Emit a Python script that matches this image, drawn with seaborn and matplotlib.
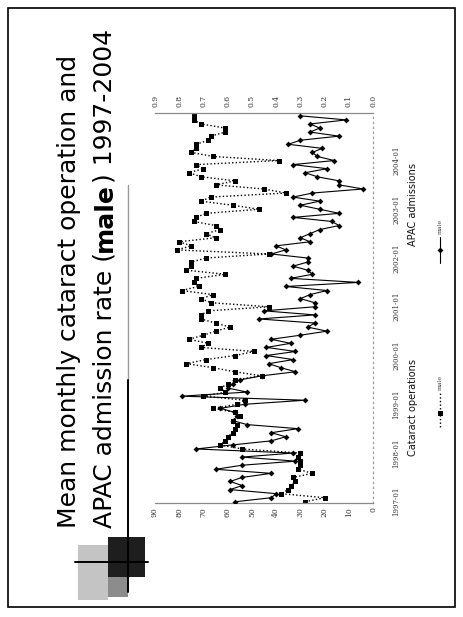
import matplotlib
matplotlib.use("Agg")
import numpy as np
import pandas as pd
import seaborn as sns
import matplotlib.pyplot as plt
from matplotlib.patches import Rectangle
from matplotlib.lines import Line2D

# ---------------- data ----------------
date_labels = ["1997-01", "1998-01", "1999-01", "2000-01",
               "2001-01", "2002-01", "2003-01", "2004-01"]

cataract = [28, 20, 38, 35, 34, 32, 33, 25, 31, 30, 30, 31,
            30, 54, 63, 61, 60, 58, 57, 56, 58, 55, 57, 66,
            56, 53, 70, 61, 63, 60, 57, 46, 57, 66, 77, 69,
            57, 49, 71, 68, 76, 70, 65, 59, 65, 71, 71, 68,
            43, 67, 71, 66, 79, 72, 74, 73, 61, 77, 75, 75,
            69, 43, 81, 75, 80, 65, 69, 63, 65, 74, 73, 69,
            47, 58, 71, 67, 36, 45, 65, 57, 71, 76, 70, 73,
            39, 66, 75, 73, 73, 68, 67, 61, 61, 71, 74, 74]

apac = [0.57, 0.42, 0.40, 0.59, 0.54, 0.59, 0.54, 0.42, 0.65, 0.54, 0.32, 0.54,
        0.33, 0.73, 0.58, 0.42, 0.36, 0.42, 0.31, 0.52, 0.58, 0.56, 0.57, 0.63,
        0.53, 0.28, 0.79, 0.52, 0.60, 0.58, 0.55, 0.46, 0.32, 0.38, 0.43, 0.33,
        0.44, 0.32, 0.44, 0.34, 0.42, 0.30, 0.19, 0.27, 0.24, 0.47, 0.24, 0.45,
        0.24, 0.24, 0.30, 0.26, 0.19, 0.36, 0.06, 0.34, 0.25, 0.27, 0.33, 0.27,
        0.27, 0.42, 0.36, 0.40, 0.26, 0.30, 0.26, 0.22, 0.14, 0.17, 0.33, 0.14,
        0.22, 0.30, 0.22, 0.33, 0.25, 0.04, 0.14, 0.14, 0.23, 0.28, 0.19, 0.33,
        0.16, 0.23, 0.25, 0.21, 0.35, 0.30, 0.14, 0.26, 0.22, 0.26, 0.11, 0.30]

left_ticks = [0, 10, 20, 30, 40, 50, 60, 70, 80, 90]
right_ticks = [0.0, 0.1, 0.2, 0.3, 0.4, 0.5, 0.6, 0.7, 0.8, 0.9]

title_line1 = "Mean monthly cataract operation and"
title_line2 = [("APAC admission rate (", "normal"), ("male", "bold"), (") 1997-2004", "normal")]
legend_cat = "Cataract operations"
legend_apac = "APAC admissions"
series_name = "male"

# ---------------- figure ----------------
sns.set_style("white")
plt.rcParams["font.family"] = ["DejaVu Sans"]

W, H = 464, 617
fig = plt.figure(figsize=(W / 100, H / 100), dpi=100)


def fx(px):
    return px / W


def fy(py):
    return 1 - py / H


months = np.arange(len(cataract))
df = pd.DataFrame({"month": months, "cataract": cataract, "apac": apac})

ax = fig.add_axes([fx(155), fy(503), fx(373) - fx(155), fy(113) - fy(503)])
sns.lineplot(data=df, x="cataract", y="month", orient="y", ax=ax,
             color="black", linestyle=(0, (1, 1.6)), linewidth=1.0,
             marker="s", markersize=3.6, markeredgewidth=0)

ax2 = ax.twiny()
sns.lineplot(data=df, x="apac", y="month", orient="y", ax=ax2,
             color="black", linewidth=0.8,
             marker="D", markersize=3.0, markeredgewidth=0)

ax.set_xlim(90, 0)
ax2.set_xlim(0.9, 0.0)
ax.set_ylim(-0.3, 95.7)

tick_font = dict(family="DejaVu Serif", size=5.5, color="#333333")
ax.set_xticks(left_ticks)
ax.set_xticklabels([str(v) for v in left_ticks], rotation=90, **tick_font)
ax.tick_params(axis="x", length=0, pad=3)

ax2.set_xticks(right_ticks)
ax2.set_xticklabels([f"{v:.1f}" for v in right_ticks], rotation=90, **tick_font)
ax2.tick_params(axis="x", length=0, pad=4)

ax.yaxis.tick_right()
ax.set_yticks(np.arange(0, 12 * len(date_labels), 12))
ax.set_yticklabels(date_labels, rotation=90, va="center",
                   family="DejaVu Serif", size=5, color="#333333")
ax.tick_params(axis="y", length=0, pad=14)

for a in (ax, ax2):
    a.set_xlabel("")
    a.set_ylabel("")
for s in ax2.spines.values():
    s.set_visible(False)
ax.spines["left"].set_visible(False)
ax.spines["bottom"].set_color("#8a8a8a")
ax.spines["bottom"].set_linewidth(0.9)
ax.spines["top"].set_color("#8a8a8a")
ax.spines["top"].set_linewidth(0.9)
ax.spines["right"].set_color("#9a9a9a")
ax.spines["right"].set_linestyle((0, (1, 3)))
ax.spines["right"].set_linewidth(0.9)

# ---------------- title (rotated) ----------------
renderer = fig.canvas.get_renderer()
title_size = 18
fig.text(fx(69), fy(528), title_line1, rotation=90, ha="center", va="bottom",
         fontsize=title_size, color="black")
y = fy(528)
for txt, wt in title_line2:
    t = fig.text(fx(105), y, txt, rotation=90, ha="center", va="bottom",
                 fontsize=title_size, fontweight=wt, color="black")
    bb = t.get_window_extent(renderer)
    y += bb.height / H

# ---------------- decoration ----------------
tf = fig.transFigure
fig.add_artist(Rectangle((fx(78), fy(600)), fx(108) - fx(78), fy(545) - fy(600),
                         transform=tf, facecolor="#c4c4c4", edgecolor="none"))
fig.add_artist(Rectangle((fx(108), fy(597)), fx(128) - fx(108), fy(577) - fy(597),
                         transform=tf, facecolor="#8c8c8c", edgecolor="none"))
fig.add_artist(Rectangle((fx(108), fy(577)), fx(145) - fx(108), fy(537) - fy(577),
                         transform=tf, facecolor="#1e1e1e", edgecolor="none"))
fig.add_artist(Line2D([fx(128), fx(128)], [fy(185), fy(380)], transform=tf,
                      color="#9a9a9a", linewidth=1.0))
fig.add_artist(Line2D([fx(128), fx(128)], [fy(380), fy(592)], transform=tf,
                      color="black", linewidth=1.4))
fig.add_artist(Line2D([fx(75), fx(148)], [fy(562), fy(562)], transform=tf,
                      color="black", linewidth=1.4))

# ---------------- legend (rotated) ----------------
fig.text(fx(413), fy(408), legend_cat, rotation=90, ha="center", va="center",
         fontsize=7, color="#111111")
fig.text(fx(413), fy(204), legend_apac, rotation=90, ha="center", va="center",
         fontsize=7, color="#111111")
fig.add_artist(Line2D([fx(440), fx(440)], [fy(427), fy(393)], transform=tf,
                      color="black", linestyle=(0, (1, 1.6)), linewidth=1.0))
fig.add_artist(Line2D([fx(440)], [fy(413)], transform=tf, color="black",
                      marker="s", markersize=3.6, markeredgewidth=0))
fig.text(fx(440), fy(390), series_name, rotation=90, ha="center", va="bottom",
         family="DejaVu Serif", fontsize=4.5, color="#444444")
fig.add_artist(Line2D([fx(440), fx(440)], [fy(263), fy(237)], transform=tf,
                      color="black", linewidth=0.8))
fig.add_artist(Line2D([fx(440)], [fy(250)], transform=tf, color="black",
                      marker="D", markersize=3.0, markeredgewidth=0))
fig.text(fx(440), fy(234), series_name, rotation=90, ha="center", va="bottom",
         family="DejaVu Serif", fontsize=4.5, color="#444444")

# ---------------- slide border ----------------
fig.add_artist(Rectangle((fx(8), fy(607)), fx(455) - fx(8), fy(8) - fy(607),
                         transform=tf, fill=False, edgecolor="black", linewidth=1.2))

fig.savefig("out.png", dpi=100)
